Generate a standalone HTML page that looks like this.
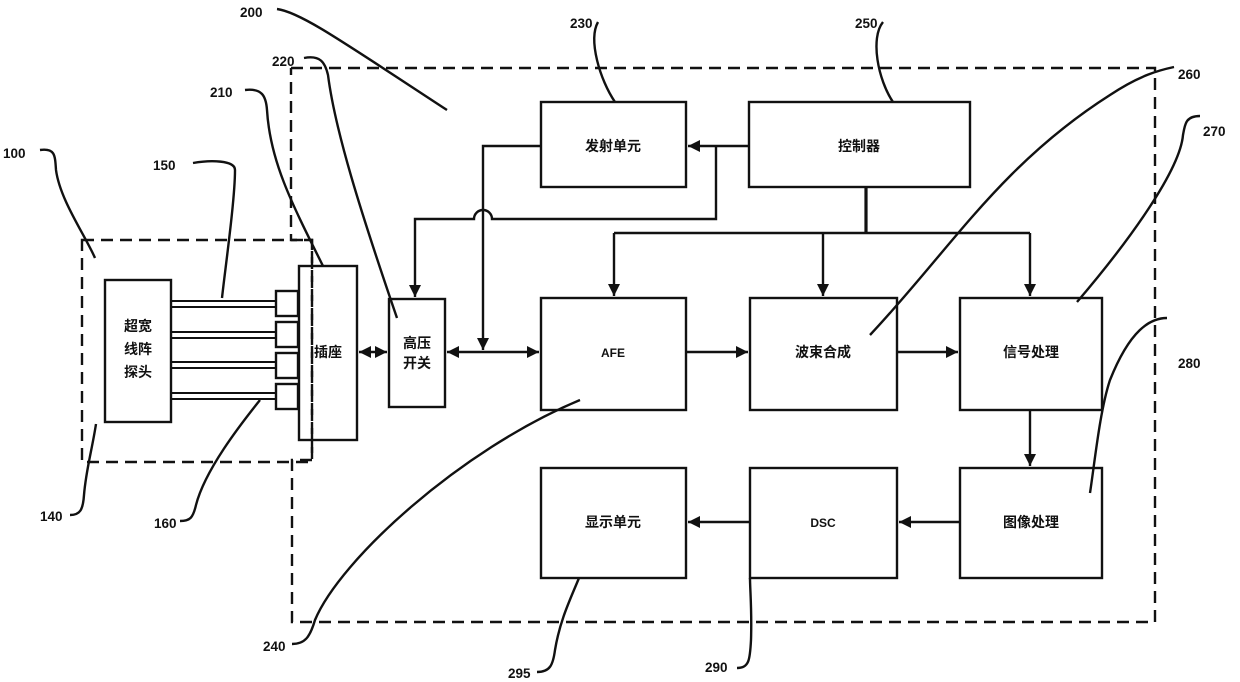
<!DOCTYPE html>
<html><head><meta charset="utf-8"><style>
body{margin:0;background:#fff}
svg{display:block}
text{font-family:"Liberation Sans","Noto Sans CJK SC",sans-serif;fill:#111}
.l{font-size:13.5px;font-weight:bold}
.c{font-size:14px;font-weight:bold}
</style></head><body>
<svg width="1240" height="682" viewBox="0 0 1240 682" xmlns="http://www.w3.org/2000/svg">
<defs>
<marker id="a" viewBox="0 0 10 10" refX="10" refY="5" markerWidth="12" markerHeight="12" markerUnits="userSpaceOnUse" orient="auto-start-reverse"><path d="M0,0L10,5L0,10z" fill="#111"/></marker>
</defs>
<g fill="none" stroke="#111" stroke-width="2.4">
<path d="M291,68H1155V622H292V460H312V240H291V68" stroke-dasharray="12,7"/>
<path d="M82,240H312V462H82Z" stroke-dasharray="12,7"/>
<rect x="541" y="102" width="145" height="85"/>
<rect x="749" y="102" width="221" height="85"/>
<rect x="541" y="298" width="145" height="112"/>
<rect x="750" y="298" width="147" height="112"/>
<rect x="960" y="298" width="142" height="112"/>
<rect x="960" y="468" width="142" height="110"/>
<rect x="750" y="468" width="147" height="110"/>
<rect x="541" y="468" width="145" height="110"/>
<rect x="389" y="299" width="56" height="108"/>
<rect x="299" y="266" width="58" height="174"/>
<rect x="105" y="280" width="66" height="142"/>
<rect x="276" y="291" width="22" height="25"/>
<rect x="276" y="322" width="22" height="25"/>
<rect x="276" y="353" width="22" height="25"/>
<rect x="276" y="384" width="22" height="25"/>
<path d="M171,301H276M171,307H276M171,332H276M171,338H276M171,362H276M171,368H276M171,393H276M171,399H276" stroke-width="2"/>
<path d="M359,352H387" marker-start="url(#a)" marker-end="url(#a)"/>
<path d="M447,352H539" marker-start="url(#a)" marker-end="url(#a)"/>
<path d="M541,146H483V350" marker-end="url(#a)"/>
<path d="M749,146H688" marker-end="url(#a)"/>
<path d="M716,146V219H492A9,9 0 0 0 474,219H415V297" marker-end="url(#a)"/>
<path d="M866,187V233" stroke-width="3.2"/>
<path d="M614,233H1030"/>
<path d="M614,233V296" marker-end="url(#a)"/>
<path d="M823,233V296" marker-end="url(#a)"/>
<path d="M1030,233V296" marker-end="url(#a)"/>
<path d="M686,352H748" marker-end="url(#a)"/>
<path d="M897,352H958" marker-end="url(#a)"/>
<path d="M1030,410V466" marker-end="url(#a)"/>
<path d="M960,522H899" marker-end="url(#a)"/>
<path d="M750,522H688" marker-end="url(#a)"/>
<path d="M40,150C55,148 55,155 56,170C60,200 85,235 95,258"/>
<path d="M193,163C210,160 235,160 235,170C235,200 225,270 222,298"/>
<path d="M245,90C262,88 266,96 267,110C270,160 290,200 323,266"/>
<path d="M304,58C320,55 325,62 328,75C335,130 360,210 397,318"/>
<path d="M277,9C300,12 340,40 447,110"/>
<path d="M598,22C588,40 600,80 615,102"/>
<path d="M883,22C870,38 878,80 893,102"/>
<path d="M1174,67C1160,70 1140,75 1110,95C1000,165 950,250 870,335"/>
<path d="M1200,116C1185,116 1185,125 1183,135C1180,170 1130,240 1077,302"/>
<path d="M1167,318C1150,318 1130,330 1110,380C1100,410 1095,460 1090,493"/>
<path d="M70,515C80,515 83,510 84,495C86,470 92,450 96,424"/>
<path d="M180,521C190,521 193,518 196,505C205,470 240,425 260,400"/>
<path d="M292,644C305,644 310,637 315,620C340,560 460,450 580,400"/>
<path d="M537,672C550,672 553,665 555,650C560,620 570,600 579,578"/>
<path d="M737,668C749,668 750,660 751,640C752,610 750,590 750,578"/>
</g>
<g class="l">
<text x="3" y="158">100</text>
<text x="153" y="170">150</text>
<text x="210" y="97">210</text>
<text x="272" y="66">220</text>
<text x="240" y="17">200</text>
<text x="570" y="28">230</text>
<text x="855" y="28">250</text>
<text x="1178" y="79">260</text>
<text x="1203" y="136">270</text>
<text x="1178" y="368">280</text>
<text x="40" y="521">140</text>
<text x="154" y="528">160</text>
<text x="263" y="651">240</text>
<text x="508" y="678">295</text>
<text x="705" y="672">290</text>
</g>
<g class="c" text-anchor="middle">
<text x="613" y="151">发射单元</text>
<text x="859" y="151">控制器</text>
<text x="613" y="357" font-size="12">AFE</text>
<text x="823" y="357">波束合成</text>
<text x="1031" y="357">信号处理</text>
<text x="1031" y="527">图像处理</text>
<text x="823" y="527" font-size="12">DSC</text>
<text x="613" y="527">显示单元</text>
<text x="417" y="348">高压</text>
<text x="417" y="368">开关</text>
<text x="328" y="357">插座</text>
<text x="138" y="331">超宽</text>
<text x="138" y="354">线阵</text>
<text x="138" y="377">探头</text>
</g>
</svg>
</body></html>
